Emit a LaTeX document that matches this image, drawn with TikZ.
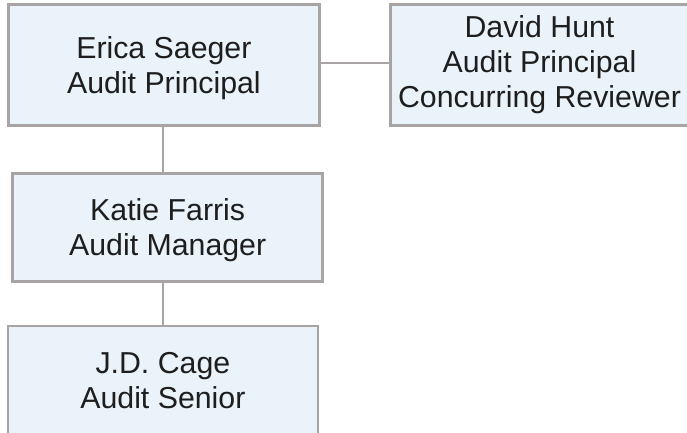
\documentclass[tikz,border=0pt]{standalone}
\usepackage{fontspec}
\setmainfont{Liberation Sans}
\definecolor{boxfill}{RGB}{234,242,250}
\definecolor{boxline}{RGB}{168,164,164}
\definecolor{txtcol}{RGB}{30,30,30}
\begin{document}
\begin{tikzpicture}[x=1pt,y=-1pt,
  orgbox/.style={rectangle, draw=boxline, line width=2.5pt, fill=boxfill, inner sep=0pt, outer sep=0pt},
  orgtext/.style={text=txtcol, inner sep=0pt, outer sep=0pt, anchor=base, font=\fontsize{30.3}{35}\selectfont},
  link/.style={draw=boxline, line width=2pt}]
\useasboundingbox (0,0) rectangle (687,433);
\clip (0,0) rectangle (687,433);
% boxes
\node[orgbox, minimum width=311.2pt, minimum height=121pt] (ericabox) at (163.9,64.8) {};
\node[orgbox, minimum width=298pt, minimum height=121pt] (davidbox) at (539.5,64.8) {};
\node[orgbox, minimum width=310pt, minimum height=108.4pt] (katiebox) at (167.7,227.5) {};
\node[orgbox, minimum width=309.8pt, minimum height=108pt] (jdbox) at (162.9,380) {};
% connectors
\draw[link] ([yshift=1.3pt]ericabox.east) -- ([yshift=1.3pt]ericabox.east -| davidbox.west);
\draw[link] ([xshift=-1.3pt]ericabox.south) -- ([xshift=-1.3pt]ericabox.south |- katiebox.north);
\draw[link] (jdbox.north |- katiebox.south) -- (jdbox.north);
% texts
\node[orgtext] (ericatext) at (163.9,58.8) {\begin{tabular}[t]{@{}c@{}}Erica Saeger\\Audit Principal\end{tabular}};
\node[orgtext] (davidtext) at (539.5,38) {\begin{tabular}[t]{@{}c@{}}David Hunt\\Audit Principal\\Concurring Reviewer\end{tabular}};
\node[orgtext] (katietext) at (167.7,220.5) {\begin{tabular}[t]{@{}c@{}}Katie Farris\\Audit Manager\end{tabular}};
\node[orgtext] (jdtext) at (162.9,373.3) {\begin{tabular}[t]{@{}c@{}}J.D. Cage\\Audit Senior\end{tabular}};
\end{tikzpicture}
\end{document}
